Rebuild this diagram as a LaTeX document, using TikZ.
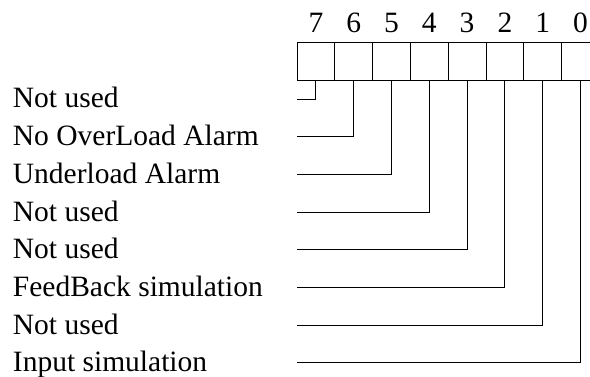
\documentclass[tikz,border=0pt]{standalone}
\usepackage{fontspec}
\setmainfont{Liberation Serif}
\begin{document}
\begin{tikzpicture}[x=1pt,y=-1pt,line width=0.9pt,
  cell/.style={draw,minimum width=37.8pt,minimum height=38pt,inner sep=0pt,outer sep=0pt},
  bitnum/.style={anchor=base,font=\fontsize{29.5}{32}\selectfont,inner sep=0pt},
  lab/.style={anchor=base west,font=\fontsize{29.5}{32}\selectfont,inner sep=0pt},
  wire/.style={draw,line width=0.9pt}]
\useasboundingbox (0,0) rectangle (590,377);
\clip (0,0) rectangle (590,377);
\foreach \i in {0,...,7} {
  \pgfmathsetmacro\cx{297+37.8*(7-\i)+18.9}
  \node[cell] (c\i) at (\cx,61) {};
  \node[bitnum] (n\i) at (\cx,33) {\i};
}
\foreach \r/\b/\t in {1/7/Not used,2/6/No OverLoad Alarm,3/5/Underload Alarm,4/4/Not used,5/3/Not used,6/2/FeedBack simulation,7/1/Not used,8/0/Input simulation} {
  \pgfmathsetmacro\yy{99+37.7*(\r-1)}
  \node[lab] (l\b) at (12.5,\yy+9) {\t};
  \coordinate (s\b) at (297,\yy);
  \draw[wire] (c\b.south) |- (s\b);
}
\end{tikzpicture}
\end{document}
